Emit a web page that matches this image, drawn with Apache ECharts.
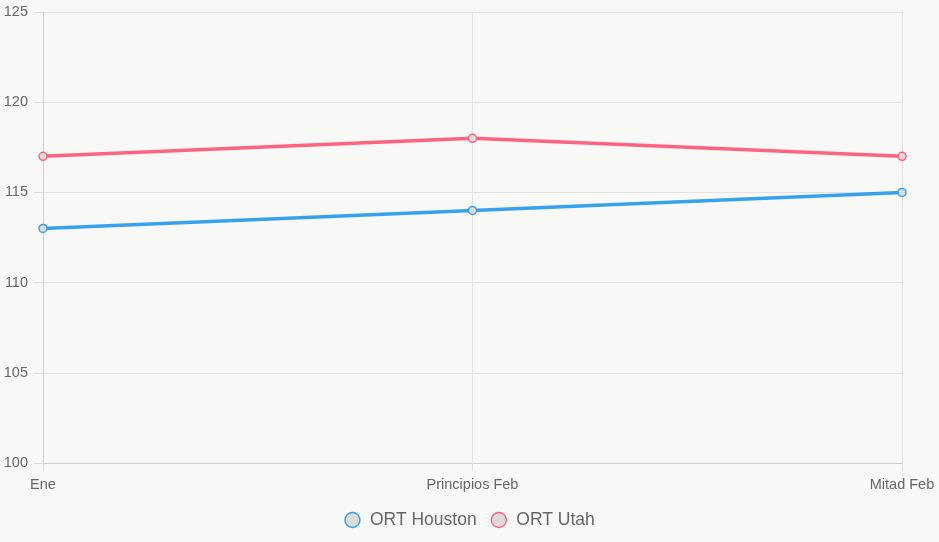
<!DOCTYPE html>
<html><head><meta charset="utf-8">
<script src="https://cdn.jsdelivr.net/npm/echarts@6/dist/echarts.min.js"></script>
<style>html,body{margin:0;padding:0;background:#f8f8f6;}#c{width:939px;height:542px;}</style>
</head><body><div id="c"></div>
<script>
var categories = ["Ene", "Principios Feb", "Mitad Feb"];
var houston = [113, 114, 115];
var utah = [117, 118, 117];
var seriesNames = ["ORT Houston", "ORT Utah"];
var colors = ["#36a2eb", "#ff6384"];

var chart = echarts.init(document.getElementById('c'));
var font = 'Liberation Sans, Arial, sans-serif';
function mk(name, data, color) {
  return {
    name: name, type: 'line', data: data,
    lineStyle: {width: 3.5, color: color},
    itemStyle: {color: '#dcdcda', borderColor: color, borderWidth: 1.5},
    symbol: 'circle', symbolSize: 8, showSymbol: true,
    emphasis: {disabled: true}
  };
}
chart.setOption({
  backgroundColor: '#f8f8f6',
  animation: false,
  grid: {left: 43, right: 37, top: 12, bottom: 79, containLabel: false},
  legend: {
    bottom: 8, left: 'center', itemGap: 14, itemWidth: 15, itemHeight: 15,
    icon: 'circle',
    textStyle: {color: '#666', fontSize: 17.5, fontFamily: font, padding: [0, 0, 0, 5]},
    data: [
      {name: seriesNames[0], itemStyle: {color: '#dcdcda', borderColor: colors[0], borderWidth: 1.5}},
      {name: seriesNames[1], itemStyle: {color: '#dcdcda', borderColor: colors[1], borderWidth: 1.5}}
    ]
  },
  xAxis: {
    type: 'category', data: categories, boundaryGap: false,
    axisLine: {lineStyle: {color: '#cfcfcf'}},
    axisTick: {show: true, alignWithLabel: true, length: 8, lineStyle: {color: '#dcdcdc'}},
    splitLine: {show: true, lineStyle: {color: '#e2e2e2'}},
    axisLabel: {color: '#666', fontSize: 14.5, fontFamily: font, margin: 14}
  },
  yAxis: {
    type: 'value', min: 100, max: 125, interval: 5,
    axisLine: {show: true, lineStyle: {color: '#cfcfcf'}},
    axisTick: {show: true, length: 9, lineStyle: {color: '#dcdcdc'}},
    splitLine: {show: true, lineStyle: {color: '#e2e2e2'}},
    axisLabel: {color: '#666', fontSize: 14.5, fontFamily: font, margin: 15}
  },
  series: [mk(seriesNames[0], houston, colors[0]), mk(seriesNames[1], utah, colors[1])]
});
</script></body></html>
